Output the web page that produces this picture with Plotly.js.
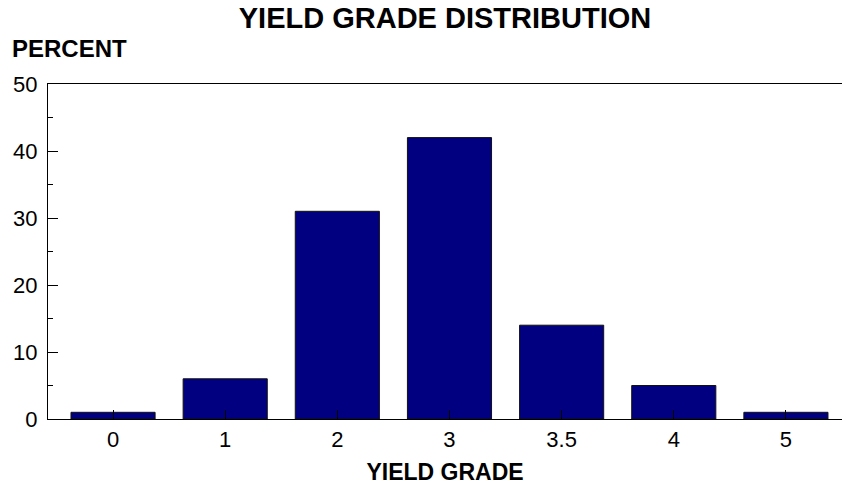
<!DOCTYPE html>
<html>
<head>
<meta charset="utf-8">
<script src="https://cdn.plot.ly/plotly-3.0.1.min.js"></script>
<style>html,body{margin:0;padding:0;background:#fff;}#chart{width:842px;height:486px;}</style>
</head>
<body>
<div id="chart"></div>
<script>
const categories = ["0", "1", "2", "3", "3.5", "4", "5"];
const percents = [1, 6, 31, 42, 14, 5, 1];
const yTickVals = [0, 10, 20, 30, 40, 50];
const chartTitle = "YIELD GRADE DISTRIBUTION";
const xTitle = "YIELD GRADE";
const yTitle = "PERCENT";

const FONT = "Liberation Sans, Arial, sans-serif";

const trace = {
  type: "bar",
  x: categories,
  y: percents,
  width: 0.75,
  marker: { color: "#000080", line: { color: "#111", width: 1 } },
  hoverinfo: "none"
};

const layout = {
  width: 842, height: 486,
  margin: { l: 48, r: 0, t: 84, b: 67 },
  paper_bgcolor: "#fff", plot_bgcolor: "#fff",
  font: { family: FONT, color: "#000", size: 22 },
  showlegend: false,
  bargap: 0.25,
  title: {
    text: "<b>" + chartTitle + "</b>",
    font: { family: FONT, size: 29, color: "#000" },
    xref: "paper", x: 0.5, xanchor: "center",
    yref: "container", y: 0.963, yanchor: "middle"
  },
  xaxis: {
    type: "category",
    range: [-0.58, 6.5],
    showline: true, linecolor: "#000", linewidth: 1, mirror: true,
    ticks: "inside", ticklen: 9, tickcolor: "#000", tickwidth: 1,
    ticklabelstandoff: 1,
    showgrid: false, zeroline: false,
    tickfont: { family: FONT, size: 22, color: "#000" },
    title: { text: "<b>" + xTitle + "</b>", font: { family: FONT, size: 23, color: "#000" }, standoff: 12 }
  },
  yaxis: {
    range: [0, 50],
    tickvals: yTickVals,
    showline: true, linecolor: "#000", linewidth: 1,
    ticks: "inside", ticklen: 10, tickcolor: "#000", tickwidth: 1,
    ticklabelstandoff: 5,
    minor: { dtick: 5, ticks: "inside", ticklen: 5, tickcolor: "#000", tickwidth: 1, showgrid: false },
    showgrid: false, zeroline: false,
    tickfont: { family: FONT, size: 22, color: "#000" }
  },
  annotations: [{
    text: "<b>" + yTitle + "</b>",
    xref: "paper", yref: "paper",
    x: -48 / 794, y: 1 + 35 / 335,
    xanchor: "left", yanchor: "middle",
    xshift: 10,
    showarrow: false,
    font: { family: FONT, size: 24, color: "#000" }
  }]
};

Plotly.newPlot("chart", [trace], layout, { displayModeBar: false, staticPlot: true });
</script>
</body>
</html>
